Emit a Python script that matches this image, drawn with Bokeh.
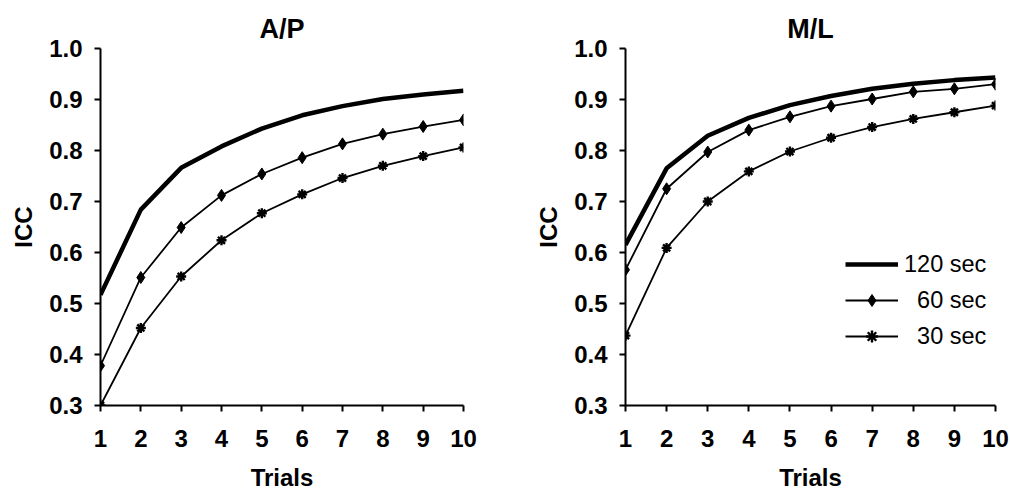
from bokeh.plotting import figure
from bokeh.layouts import row
from bokeh.models import FixedTicker, NumeralTickFormatter, Legend, LegendItem, Range1d
from bokeh.embed import file_html
from bokeh.resources import INLINE

trials = [1, 2, 3, 4, 5, 6, 7, 8, 9, 10]
y_ticks = [0.3, 0.4, 0.5, 0.6, 0.7, 0.8, 0.9, 1.0]

ap_120 = [0.517, 0.684, 0.766, 0.808, 0.843, 0.869, 0.887, 0.901, 0.910, 0.917]
ap_60 = [0.378, 0.551, 0.649, 0.712, 0.754, 0.786, 0.813, 0.832, 0.847, 0.860]
ap_30 = [0.300, 0.452, 0.553, 0.624, 0.677, 0.714, 0.746, 0.770, 0.789, 0.806]

ml_120 = [0.615, 0.765, 0.829, 0.864, 0.889, 0.907, 0.921, 0.931, 0.938, 0.943]
ml_60 = [0.566, 0.725, 0.797, 0.840, 0.866, 0.887, 0.901, 0.915, 0.921, 0.930]
ml_30 = [0.437, 0.609, 0.700, 0.759, 0.798, 0.825, 0.846, 0.862, 0.875, 0.888]

FONT = "Liberation Sans"


def panel(title, s120, s60, s30, width, bl, br, legend=False):
    p = figure(width=width, height=493, output_backend="svg", toolbar_location=None,
               x_range=Range1d(1, 10), y_range=Range1d(0.3, 1.0),
               min_border_left=bl, min_border_right=br, min_border_top=48, min_border_bottom=87,
               title=title)
    p.title.text_font = FONT
    p.title.text_font_size = "27px"
    p.title.text_font_style = "bold"
    p.title.align = "center"
    p.title.text_color = "black"
    p.outline_line_color = None
    p.grid.visible = False
    p.background_fill_color = "white"

    r120 = p.line(trials, s120, line_width=4.5, color="black")
    l60 = p.line(trials, s60, line_width=1.8, color="black")
    m60 = p.scatter(trials, s60, marker="diamond", size=12, color="black")
    l30 = p.line(trials, s30, line_width=1.8, color="black")
    m30 = p.scatter(trials, s30, marker="asterisk", size=10, line_width=2.4, color="black")

    for ax in (p.xaxis[0], p.yaxis[0]):
        ax.axis_line_width = 2
        ax.axis_line_color = "black"
        ax.major_tick_line_width = 2
        ax.major_tick_line_color = "black"
        ax.major_tick_out = 6
        ax.major_tick_in = 0
        ax.minor_tick_line_color = None
        ax.major_label_text_font = FONT
        ax.major_label_text_font_size = "24px"
        ax.major_label_text_font_style = "bold"
        ax.major_label_text_color = "black"
        ax.axis_label_text_font = FONT
        ax.axis_label_text_font_size = "24px"
        ax.axis_label_text_font_style = "bold"
        ax.axis_label_text_color = "black"

    p.xaxis.ticker = FixedTicker(ticks=trials)
    p.yaxis.ticker = FixedTicker(ticks=y_ticks)
    p.yaxis.formatter = NumeralTickFormatter(format="0.0")
    p.xaxis.axis_label = "Trials"
    p.yaxis.axis_label = "ICC"
    p.xaxis.major_label_standoff = 18
    p.xaxis.axis_label_standoff = 14
    p.yaxis.major_label_standoff = 12
    p.yaxis.axis_label_standoff = 9

    if legend:
        lg = Legend(items=[
            LegendItem(label="120 sec", renderers=[r120]),
            LegendItem(label="\u200760 sec", renderers=[l60, m60]),
            LegendItem(label="\u200730 sec", renderers=[l30, m30]),
        ], location=(220, 54))
        lg.border_line_color = None
        lg.background_fill_alpha = 0
        lg.label_text_font = FONT
        lg.label_text_font_size = "23.5px"
        lg.label_text_color = "black"
        lg.glyph_width = 53
        lg.glyph_height = 30
        lg.spacing = 6
        lg.padding = 0
        lg.margin = 0
        lg.label_standoff = 6
        p.add_layout(lg)
    return p


p1 = panel("A/P", ap_120, ap_60, ap_30, 505, 100, 42)
p2 = panel("M/L", ml_120, ml_60, ml_30, 505, 120, 15, legend=True)
layout = row(p1, p2)

open("out.html", "w").write(file_html(layout, INLINE))
